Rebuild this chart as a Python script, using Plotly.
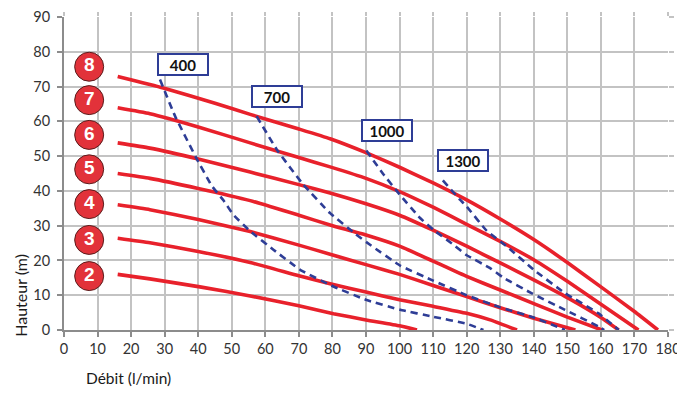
import plotly.graph_objects as go

# Pressure curves (bar) : débit (l/min) vs hauteur (m)
c8_x = [16, 29.6, 45, 55.5, 70, 79.3, 90, 100, 110, 120, 130, 140, 150, 160, 170, 177]
c8_y = [72.9, 69.6, 65.2, 62.0, 57.8, 55.0, 51.0, 46.8, 42.3, 37.4, 31.9, 26.0, 19.4, 12.4, 5.3, 0]
c7_x = [16, 25.6, 40, 55.5, 70, 79.3, 90, 100, 110, 120, 130, 140, 150, 160, 171.2]
c7_y = [63.9, 62.2, 58.4, 53.8, 49.6, 46.9, 43.6, 39.8, 35.3, 30.4, 25.5, 20.2, 14.0, 7.4, 0]
c6_x = [16, 25.6, 40, 55.5, 70, 79.3, 90, 100, 110, 120, 130, 140, 150, 160, 165.3]
c6_y = [53.8, 52.3, 49.2, 45.4, 41.8, 39.4, 36.3, 33.0, 28.7, 24.1, 19.3, 14.4, 9.3, 3.6, 0]
c5_x = [16, 25.6, 40, 55.5, 70, 79.3, 90, 100, 110, 120, 130, 140, 150, 160.3]
c5_y = [45.0, 43.6, 40.7, 37.2, 33.0, 30.2, 27.3, 24.1, 19.8, 15.4, 11.5, 7.6, 3.7, 0]
c4_x = [16, 25.6, 40, 55.5, 70, 79.3, 90, 100, 110, 120, 130, 140, 152.4]
c4_y = [36.0, 34.6, 31.8, 28.3, 24.4, 21.8, 18.8, 16.0, 12.8, 9.6, 6.4, 3.4, 0]
c3_x = [16, 25.6, 40, 55.5, 70, 79.3, 90, 100, 110, 120, 127, 135]
c3_y = [26.4, 25.1, 22.6, 19.4, 15.6, 13.3, 10.9, 8.7, 6.8, 4.8, 2.9, 0]
c2_x = [16, 25.6, 40.5, 55.5, 70, 80.3, 90, 100, 105.2]
c2_y = [16.0, 14.7, 12.4, 9.8, 7.0, 4.7, 2.9, 1.2, 0]

pressure_labels = ["8", "7", "6", "5", "4", "3", "2"]
label_x = [7.5, 7.5, 7.5, 7.5, 7.5, 7.5, 7.5]
label_y = [75.7, 66.1, 56.1, 46.2, 36.2, 25.9, 15.5]

# Air consumption lines
a400_x = [28.6, 33.1, 39.4, 44, 47.5, 50.5, 55.5, 62.4, 70.4, 80.3, 90.2, 100.2, 110.1, 120, 125]
a400_y = [72.0, 61.5, 49.5, 41.5, 37.3, 33.1, 28.4, 23.1, 17.3, 12.5, 8.6, 5.8, 3.8, 1.8, 0]
a700_x = [57.4, 63.4, 71.3, 79.3, 87, 91.2, 100.2, 110, 120, 130, 140, 149.3]
a700_y = [61.5, 51.9, 41.8, 33.6, 27.5, 24.5, 18.5, 14.2, 10.0, 6.5, 3.6, 0]
a1000_x = [90.1, 95, 100, 106.1, 110.1, 116.1, 120, 127, 131, 139.3, 149.3, 159.3, 161]
a1000_y = [51.6, 45.0, 39.0, 32.2, 28.8, 24.5, 21.5, 17.8, 15.0, 10.6, 5.8, 1.0, 0]
a1300_x = [112.9, 118, 120, 126, 132, 140, 149.3, 159.3, 165.3]
a1300_y = [43.0, 37.5, 35.5, 28.5, 24.0, 17.3, 10.6, 4.8, 0]

air_labels = ["400", "700", "1000", "1300"]
air_label_x = [35.6, 63.5, 96.3, 119.0]
air_label_y = [76.2, 67.0, 57.5, 48.6]

x_ticks = list(range(0, 181, 10))
y_ticks = list(range(0, 91, 10))

RED = "#e8212b"
BLUE = "#2e3d96"
GRID = "#c3c3c3"
FONT = "Lato"

fig = go.Figure()

for xs, ys in [(c8_x, c8_y), (c7_x, c7_y), (c6_x, c6_y), (c5_x, c5_y),
               (c4_x, c4_y), (c3_x, c3_y), (c2_x, c2_y)]:
    fig.add_trace(go.Scatter(x=xs, y=ys, mode="lines",
                             line=dict(color=RED, width=3.6, shape="spline", smoothing=0.4),
                             showlegend=False, hoverinfo="skip"))

for xs, ys in [(a400_x, a400_y), (a700_x, a700_y), (a1000_x, a1000_y), (a1300_x, a1300_y)]:
    fig.add_trace(go.Scatter(x=xs, y=ys, mode="lines",
                             line=dict(color=BLUE, width=2.6, dash="7px,5px", shape="spline", smoothing=0.3),
                             showlegend=False, hoverinfo="skip"))

fig.add_trace(go.Scatter(x=label_x, y=label_y, mode="markers+text", text=pressure_labels,
                         textposition="middle center",
                         textfont=dict(family="Liberation Sans", size=19, color="white", weight="bold"),
                         marker=dict(size=29, color="#e2323a", line=dict(color="#5a1c1c", width=1)),
                         showlegend=False, hoverinfo="skip", cliponaxis=False))

for t, xv, yv in zip(air_labels, air_label_x, air_label_y):
    fig.add_annotation(x=xv, y=yv, xref="x", yref="y", text="<b>%s</b>" % t, showarrow=False,
                       font=dict(family=FONT, size=15, color="#111111"),
                       bgcolor="white", bordercolor=BLUE, borderwidth=2, borderpad=1,
                       width=46, height=17)

# helper axes for the small outer tick marks at top and right
fig.add_trace(go.Scatter(x=[], y=[], xaxis="x2", yaxis="y2", showlegend=False))

fig.add_annotation(text="Hauteur (m)", xref="paper", yref="paper", x=-0.0905, y=0.112,
                   textangle=-90, showarrow=False, xanchor="left", yanchor="middle",
                   font=dict(family=FONT, size=16, color="#1a1a1a"))
fig.add_annotation(text="Débit (l/min)", xref="paper", yref="paper", x=0.033, y=-0.153,
                   showarrow=False, xanchor="left", yanchor="middle",
                   font=dict(family=FONT, size=15.5, color="#1a1a1a"))

axis_common = dict(showgrid=True, gridcolor=GRID, gridwidth=1.5, zeroline=False,
                   showline=True, linecolor="#8c8c8c", linewidth=2,
                   ticks="outside", ticklen=5, tickcolor="#8c8c8c", tickwidth=1.5,
                   tickfont=dict(family=FONT, size=14.5, color="#333333"))

# page body has an 8px margin: figure is 677x388 so the plot sits where the reference has it
fig.update_layout(
    width=677, height=388,
    margin=dict(l=56, r=17, t=9, b=66, autoexpand=False),
    paper_bgcolor="white", plot_bgcolor="white",
    xaxis=dict(range=[0, 180], tickvals=x_ticks, **axis_common),
    yaxis=dict(range=[0, 90], tickvals=y_ticks, ticklabelstandoff=4, **axis_common),
    xaxis2=dict(range=[0, 180], tickvals=x_ticks, overlaying="x", side="top", anchor="y",
                showgrid=False, zeroline=False, showline=False, showticklabels=False,
                ticks="outside", ticklen=4, tickcolor=GRID, tickwidth=1.5),
    yaxis2=dict(range=[0, 90], tickvals=y_ticks, overlaying="y", side="right", anchor="x",
                showgrid=False, zeroline=False, showline=False, showticklabels=False,
                ticks="outside", ticklen=5, tickcolor=GRID, tickwidth=1.5),
)

fig.write_html("out.html")
